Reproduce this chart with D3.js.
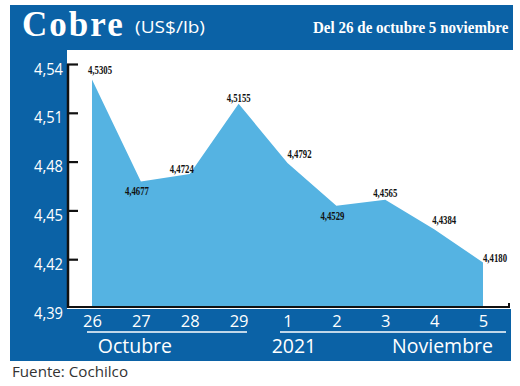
<!DOCTYPE html>
<html>
<head>
<meta charset="utf-8">
<script src="https://cdn.jsdelivr.net/npm/d3@7"></script>
<style>
  html, body { margin: 0; padding: 0; background: #fff; }
  svg { display: block; }
</style>
</head>
<body>
<svg id="chart" width="520" height="386"></svg>
<script>
// ---- data ----
const days = ["26", "27", "28", "29", "1", "2", "3", "4", "5"];
const prices = [4.5305, 4.4677, 4.4724, 4.5155, 4.4792, 4.4529, 4.4565, 4.4384, 4.4180];
const priceLabels = ["4,5305", "4,4677", "4,4724", "4,5155", "4,4792", "4,4529", "4,4565", "4,4384", "4,4180"];
const yTicks = [4.39, 4.42, 4.45, 4.48, 4.51, 4.54];
const yTickLabels = ["4,39", "4,42", "4,45", "4,48", "4,51", "4,54"];
const groupLabels = ["Octubre", "2021", "Noviembre"];
const titleMain = "Cobre";
const titleUnit = "(US$/lb)";
const titleRange = "Del 26 de octubre 5 noviembre";
const sourceText = "Fuente: Cochilco";

// ---- layout (styling) ----
const BLUE = "#0b62a6";
const AREA = "#55b3e2";
const labelOffsets = [[8, -5], [-4, 13], [-8, -1], [0, -2], [12, -5], [-4, 14], [0, -3], [10, -5], [12, 0]];

const svg = d3.select("#chart");

// frame
svg.append("rect").attr("x", 10).attr("y", 5).attr("width", 503).attr("height", 45).attr("fill", BLUE);
svg.append("rect").attr("x", 10).attr("y", 49).attr("width", 57).attr("height", 262).attr("fill", BLUE);
svg.append("rect").attr("x", 10).attr("y", 309).attr("width", 501).attr("height", 52).attr("fill", BLUE);

// scales
const x = d3.scalePoint().domain(days).range([92, 483]);
const y = d3.scaleLinear().domain([4.39, 4.54]).range([308, 64]);

// area
const baseY = 307;
const area = d3.area()
  .x((d, i) => x(days[i]))
  .y0(baseY)
  .y1(d => y(d));
svg.append("path").datum(prices).attr("d", area).attr("fill", AREA);

// y axis
const yAxis = d3.axisLeft(y).tickValues(yTicks).tickSize(-10).tickFormat((d, i) => yTickLabels[i]);
const gy = svg.append("g").attr("transform", "translate(68,0)").call(yAxis);
gy.select(".domain").attr("d", "M0,64V308").attr("stroke", "#111").attr("stroke-width", 2.5);
gy.selectAll(".tick line").attr("stroke", "#111").attr("stroke-width", 2.2).attr("x1", -1);
gy.selectAll(".tick text")
  .attr("x", -5).attr("dy", "0.95em").attr("y", -6)
  .attr("fill", "#fff")
  .style("font-family", "'Open Sans', 'Noto Sans', sans-serif")
  .style("font-size", "17px")
  .attr("textLength", 29).attr("lengthAdjust", "spacingAndGlyphs");
gy.selectAll(".tick").filter(d => d === 4.39).select("line").remove();

// x axis (bottom line)
const xAxis = d3.axisBottom(x).tickSize(0).tickFormat(d => d);
const gx = svg.append("g").attr("transform", `translate(0,${baseY})`).call(xAxis);
gx.select(".domain").attr("d", "M67,0H509V-4").attr("stroke", "#111").attr("stroke-width", 2).attr("fill", "none");
gx.selectAll(".tick text")
  .attr("y", 20).attr("dy", 0)
  .attr("fill", "#fff")
  .style("font-family", "'Open Sans', 'Noto Sans', sans-serif")
  .style("font-size", "16.5px");

// group underlines
svg.append("line").attr("x1", 87).attr("x2", 247).attr("y1", 332).attr("y2", 332).attr("stroke", "#fff").attr("stroke-width", 1.5);
svg.append("line").attr("x1", 280).attr("x2", 506).attr("y1", 332).attr("y2", 332).attr("stroke", "#fff").attr("stroke-width", 1.5);
const groupX = [x("27") - 6, (x("1") + x("2")) / 2 - 18, (x("4") + x("5")) / 2 - 16];
svg.selectAll(".grp").data(groupLabels).enter().append("text")
  .attr("x", (d, i) => groupX[i]).attr("y", 353)
  .attr("text-anchor", "middle").attr("fill", "#fff")
  .style("font-family", "'Open Sans', 'Noto Sans', sans-serif")
  .style("font-size", "19.5px")
  .text(d => d);

// value labels
svg.selectAll(".vl").data(prices).enter().append("text")
  .attr("x", (d, i) => x(days[i]) + labelOffsets[i][0])
  .attr("y", (d, i) => y(d) + labelOffsets[i][1])
  .attr("text-anchor", "middle")
  .attr("fill", "#111")
  .style("font-family", "'Liberation Serif', 'DejaVu Serif', serif")
  .style("font-weight", "bold")
  .style("font-size", "13px")
  .attr("textLength", 24).attr("lengthAdjust", "spacingAndGlyphs")
  .text((d, i) => priceLabels[i]);

// titles
svg.append("text").attr("x", 22).attr("y", 36).attr("fill", "#fff")
  .style("font-family", "'Liberation Serif', 'DejaVu Serif', serif")
  .style("font-weight", "bold").style("font-size", "35px")
  .style("letter-spacing", "2px")
  .text(titleMain);
svg.append("text").attr("x", 135).attr("y", 33).attr("fill", "#fff")
  .style("font-family", "'Open Sans', 'Noto Sans', sans-serif")
  .style("font-size", "17px")
  .attr("textLength", 70).attr("lengthAdjust", "spacingAndGlyphs")
  .text(titleUnit);
svg.append("text").attr("transform", "translate(313,33) scale(0.86,1)").attr("fill", "#fff")
  .style("font-family", "'Liberation Serif', 'DejaVu Serif', serif")
  .style("font-weight", "bold").style("font-size", "17.5px")
  .text(titleRange);

// source
svg.append("text").attr("x", 12).attr("y", 377).attr("fill", "#333")
  .style("font-family", "'Open Sans', 'Noto Sans', sans-serif")
  .style("font-size", "14.5px")
  .attr("textLength", 116).attr("lengthAdjust", "spacingAndGlyphs")
  .text(sourceText);
</script>
</body>
</html>
